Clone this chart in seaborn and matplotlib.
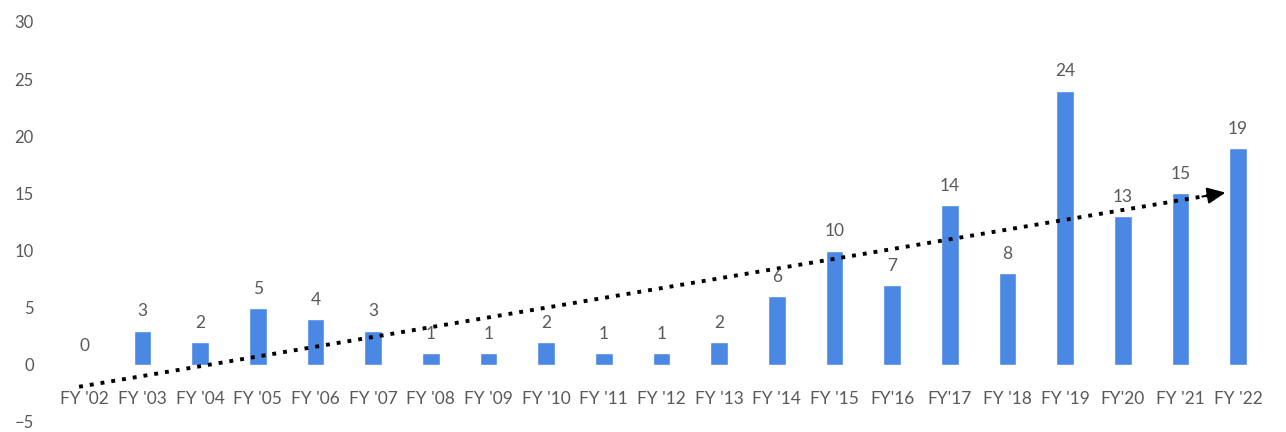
import seaborn as sns, numpy as np, pandas as pd
import matplotlib.pyplot as plt

years = ["FY '02", "FY '03", "FY '04", "FY '05", "FY '06", "FY '07", "FY '08",
         "FY '09", "FY '10", "FY '11", "FY '12", "FY '13", "FY '14", "FY '15",
         "FY'16", "FY'17", "FY '18", "FY '19", "FY'20", "FY '21", "FY '22"]
counts = [0, 3, 2, 5, 4, 3, 1, 1, 2, 1, 1, 2, 6, 10, 7, 14, 8, 24, 13, 15, 19]

df = pd.DataFrame({"year": years, "count": counts})

sns.set_style("white")
plt.rcParams['font.family'] = ['Lato', 'DejaVu Sans']
grey = "#595959"

fig = plt.figure(figsize=(12.86, 4.32), dpi=100)
ax = fig.add_axes([56 / 1286, 10 / 432, 1211 / 1286, 400 / 432])

sns.barplot(data=df, x="year", y="count", color="#4a88e4", saturation=1,
            width=0.31, ax=ax)
ax.bar_label(ax.containers[0], padding=8, fontsize=12.5, color=grey)

# linear trend, drawn as a dotted arrow
x = np.arange(len(counts))
slope, icpt = np.polyfit(x, counts, 1)
x0, x1 = -0.1, 19.78
ax.plot([x0, x1 - 0.2], [icpt + slope * x0, icpt + slope * (x1 - 0.2)],
        color="black", linestyle=(0, (1, 1.8)), linewidth=2.8)
ax.annotate("", xy=(x1, icpt + slope * x1),
            xytext=(x1 - 0.4, icpt + slope * (x1 - 0.4)),
            arrowprops=dict(arrowstyle="-|>,head_length=1.1,head_width=0.5",
                            color="black", lw=1.5, shrinkA=0, shrinkB=0))

ax.set_xlim(-0.5, 20.5)
ax.set_ylim(-5, 30)
ax.set_yticks(range(-5, 31, 5))
ax.set_xlabel("")
ax.set_ylabel("")
sns.despine(ax=ax, left=True, bottom=True)
ax.spines['bottom'].set_position(('data', 0))
ax.tick_params(axis='x', length=0, pad=19, labelsize=12.5, labelcolor=grey)
ax.tick_params(axis='y', length=0, pad=16, labelsize=12, labelcolor=grey)

fig.savefig("out.png", dpi=100)
